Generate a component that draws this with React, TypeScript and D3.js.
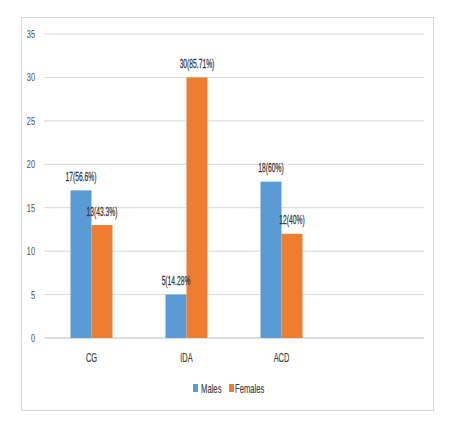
import { scaleBand, scaleLinear } from "d3";

const categories = ["CG", "IDA", "ACD", ""];
const males = [17, 5, 18, null];
const females = [13, 30, 12, null];
const maleLabels = ["17(56.6%)", "5(14.28%", "18(60%)", ""];
const femaleLabels = ["13(43.3%)", "30(85.71%)", "12(40%)", ""];
const yTicks = [0, 5, 10, 15, 20, 25, 30, 35];
const seriesNames = ["Males", "Females"];
const colors = ["#5b9bd5", "#ed7d31"];

const FONT = "'Liberation Sans', Arial, sans-serif";

type LabelProps = {
  x: number;
  y: number;
  text: string;
  anchor?: "start" | "middle" | "end";
  sx?: number;
  fill?: string;
  size?: number;
  heavy?: number;
  dy?: string;
};

// the original font is very narrow, so squeeze the glyphs horizontally
function Label({ x, y, text, anchor = "middle", sx = 0.64, fill = "#595959", size = 11.5, heavy = 0.15, dy }: LabelProps) {
  return (
    <text
      transform={`translate(${x},${y}) scale(${sx},1)`}
      textAnchor={anchor}
      fontSize={size}
      fill={fill}
      stroke={fill}
      strokeWidth={heavy}
      dy={dy}
    >
      {text}
    </text>
  );
}

export default function App() {
  const width = 458;
  const height = 429;
  const x = scaleBand<string>().domain(categories.map((c, i) => `${i}`)).range([44, 424]);
  const y = scaleLinear().domain([0, 35]).range([338, 34]);
  const barW = 21;

  return (
    <svg
      width={width}
      height={height}
      style={{ position: "absolute", left: 0, top: 0, background: "#fff", fontFamily: FONT }}
    >
      <rect x={21.5} y={17.5} width={412} height={393} fill="#fff" stroke="#d9d9d9" />
      {yTicks.map((t) => (
        <g key={t}>
          <line x1={44} x2={424} y1={y(t)} y2={y(t)} stroke={t === 0 ? "#bfbfbf" : "#d9d9d9"} strokeWidth={1} />
          <Label x={35} y={y(t)} dy="0.35em" anchor="end" text={`${t}`} heavy={0.1} />
        </g>
      ))}
      {categories.map((c, i) => {
        const cx = (x(`${i}`) ?? 0) + x.bandwidth() / 2;
        const m = males[i];
        const f = females[i];
        return (
          <g key={i}>
            {m != null && <rect x={cx - barW} y={y(m)} width={barW} height={y(0) - y(m)} fill={colors[0]} />}
            {f != null && <rect x={cx} y={y(f)} width={barW} height={y(0) - y(f)} fill={colors[1]} />}
            {m != null && (
              <Label x={cx - barW / 2} y={y(m) - 9.5} size={12} sx={0.56} fill="#333" text={maleLabels[i]} heavy={0.25} />
            )}
            {f != null && (
              <Label x={cx + barW / 2} y={y(f) - 9.5} size={12} sx={0.56} fill="#333" text={femaleLabels[i]} heavy={0.25} />
            )}
            <Label x={cx} y={362} text={c} fill="#404040" size={12} sx={0.62} />
          </g>
        );
      })}
      <g>
        <rect x={193} y={384} width={5} height={8} fill={colors[0]} />
        <Label x={201} y={392.5} anchor="start" text={seriesNames[0]} fill="#404040" size={12} sx={0.64} />
        <rect x={229} y={384} width={5} height={8} fill={colors[1]} />
        <Label x={235} y={392.5} anchor="start" text={seriesNames[1]} fill="#404040" size={12} sx={0.64} />
      </g>
    </svg>
  );
}
